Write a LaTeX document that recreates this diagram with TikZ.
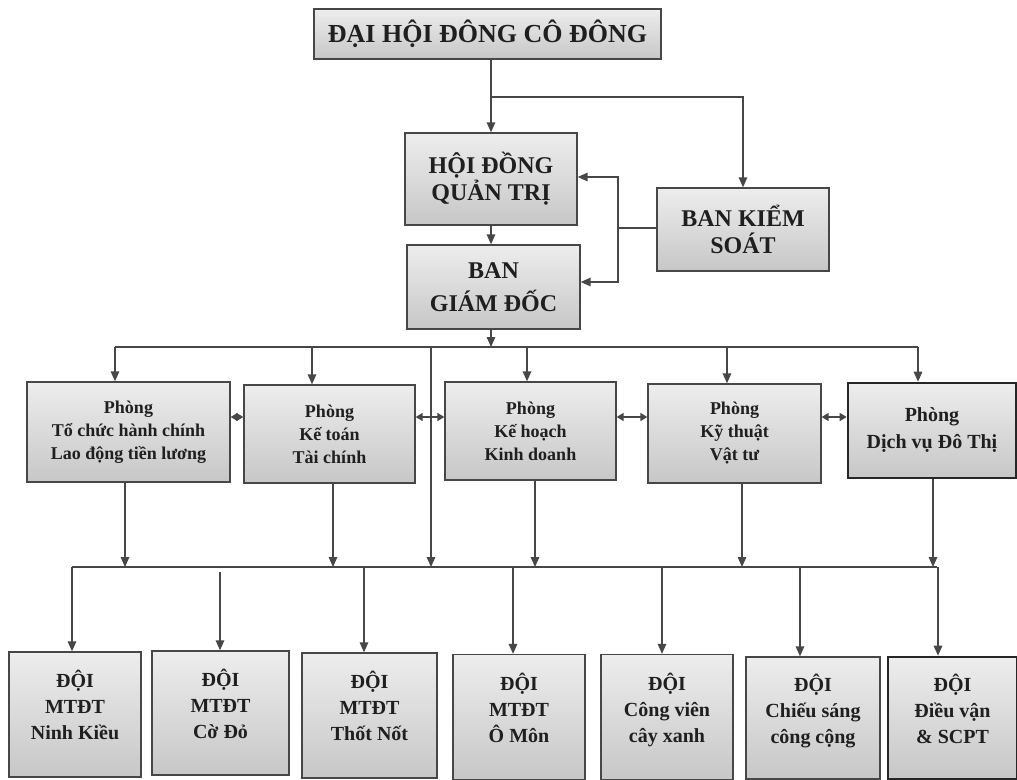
\documentclass[tikz,border=0pt]{standalone}
\usepackage{fontspec}
\setmainfont{Liberation Serif}
\usepackage{tikz}
\usetikzlibrary{arrows.meta}
\definecolor{linegray}{HTML}{474747}

\begin{document}
\begin{tikzpicture}[x=1pt, y=-1pt,
	box/.style={draw=linegray, line width=1.3pt, top color=black!7, bottom color=black!22,
		align=center, text=black!88, inner sep=2pt},
	boldbox/.style={box, draw=black!85, line width=2.6pt},
	toptext/.style={font=\bfseries\fontsize{26}{30}\selectfont},
	leadtext/.style={font=\bfseries\fontsize{24}{27}\selectfont},
	roomtext/.style={font=\bfseries\fontsize{18}{23}\selectfont},
	teamtext/.style={font=\bfseries\fontsize{20}{26}\selectfont, text depth=19pt},
	link/.style={draw=linegray, line width=1.4pt},
	arr/.style={link, -{Triangle[length=10pt,width=8.5pt]}},
	darr/.style={link, {Triangle[length=7pt,width=8pt]}-{Triangle[length=7pt,width=8pt]}}]
		\useasboundingbox[fill=white] (0,0) rectangle (1017,779);

		%% Top level
		\node[box, toptext, minimum width=347pt, minimum height=50pt] (dhcd) at (487.5,34) {ĐẠI HỘI ĐÔNG CÔ ĐÔNG};
		\node[box, leadtext, minimum width=172pt, minimum height=92pt] (hdqt) at (491,179) {HỘI ĐỒNG\\QUẢN TRỊ};
		\node[box, leadtext, minimum width=173pt, minimum height=84pt] (bgd) at (493.5,287) {BAN\\[6pt]GIÁM ĐỐC};
		\node[box, leadtext, minimum width=172pt, minimum height=83pt] (bks) at (743,229.5) {BAN KIỂM\\SOÁT};

		%% Departments
		\node[box, roomtext, minimum width=203pt, minimum height=100pt] (tchc) at (128.5,432) {Phòng\\Tổ chức hành chính\\Lao động tiền lương};
		\node[box, roomtext, minimum width=171pt, minimum height=98pt] (ketoan) at (329.5,434) {Phòng\\Kế toán\\Tài chính};
		\node[box, roomtext, minimum width=171pt, minimum height=98pt] (kehoach) at (530.5,431) {Phòng\\Kế hoạch\\Kinh doanh};
		\node[box, roomtext, minimum width=173pt, minimum height=99pt] (kythuat) at (734.5,433.5) {Phòng\\Kỹ thuật\\Vật tư};
		\node[boldbox, font=\bfseries\fontsize{20}{27}\selectfont, minimum width=168pt, minimum height=95pt] (dichvu) at (932,430.5) {Phòng\\Dịch vụ Đô Thị};

		%% Teams
		\node[box, teamtext, minimum width=132pt, minimum height=125pt] (ninhkieu) at (75,714.5) {ĐỘI\\MTĐT\\Ninh Kiều};
		\node[box, teamtext, minimum width=137pt, minimum height=124pt] (codo) at (220.5,713) {ĐỘI\\MTĐT\\Cờ Đỏ};
		\node[box, teamtext, minimum width=135pt, minimum height=125pt] (thotnot) at (369.5,715.5) {ĐỘI\\MTĐT\\Thốt Nốt};
		\node[box, teamtext, minimum width=132pt, minimum height=125pt] (omon) at (519,717) {ĐỘI\\MTĐT\\Ô Môn};
		\node[box, teamtext, minimum width=132pt, minimum height=125pt] (congvien) at (667,717) {ĐỘI\\Công viên\\cây xanh};
		\node[box, teamtext, minimum width=134pt, minimum height=122pt] (chieusang) at (813,718) {ĐỘI\\Chiếu sáng\\công cộng};
		\node[boldbox, teamtext, minimum width=129pt, minimum height=122pt] (dieuvan) at (952.5,718) {ĐỘI\\Điều vận\\\& SCPT};

		%% Connectors at the top
		\coordinate (split) at (491,97);
		\draw[arr] (dhcd.south -| hdqt.north) -- (hdqt.north);
		\draw[arr] (split) -| (bks.north);
		\draw[arr] (hdqt.south) -- (hdqt.south |- bgd.north);
		\coordinate (bksj) at (618,228);
		\draw[link] (bks.west |- bksj) -- (bksj);
		\draw[arr] (bksj) |- (hdqt.east |- 0,177);
		\draw[arr] (bksj) |- (bgd.east |- 0,282);

		% First bus: BAN GIAM DOC to departments
		\coordinate (busA) at (115,347);
		\coordinate (busB) at (918,347);
		\draw[link] (busA) -- (busB);
		\draw[arr] (hdqt.south |- bgd.south) -- (hdqt.south |- busA);
		\foreach \x/\n in {115/tchc,312/ketoan,527/kehoach,727/kythuat,918/dichvu}
			\draw[arr] (\x,347) -- (\x,0 |- \n.north);
		\foreach \a/\b in {tchc/ketoan,ketoan/kehoach,kehoach/kythuat,kythuat/dichvu}
			\draw[darr] (\a.east |- 0,417) -- (\b.west |- 0,417);

		% Second bus: departments to teams
		\coordinate (busC) at (72,567);
		\coordinate (busD) at (937,567);
		\draw[link] (busC) -- (busD);
		\draw[arr] (431,347) -- (431,567);
		\foreach \x/\n in {125/tchc,333/ketoan,535/kehoach,742/kythuat,933/dichvu}
			\draw[arr] (\x,0 |- \n.south) -- (\x,567);
		\foreach \x/\n in {72/ninhkieu,364/thotnot,513/omon,662/congvien,800/chieusang,938/dieuvan}
			\draw[arr] (\x,567) -- (\x,0 |- \n.north);
		\draw[arr] (220,572) -- (220,0 |- codo.north);
	\end{tikzpicture}
\end{document}
